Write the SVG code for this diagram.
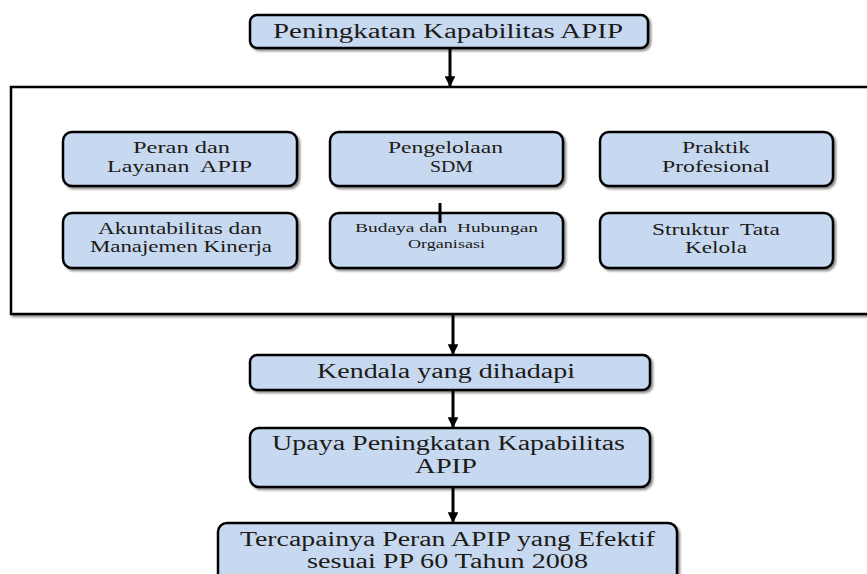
<svg xmlns="http://www.w3.org/2000/svg" width="867" height="574" viewBox="0 0 867 574">
<defs>
<filter id="sh" x="-10%" y="-20%" width="130%" height="160%">
<feDropShadow dx="2" dy="2" stdDeviation="1.2" flood-color="#000" flood-opacity="0.45"/>
</filter>
<marker id="ah" viewBox="0 0 10 10" refX="10" refY="5" markerWidth="3.6" markerHeight="3.6" markerUnits="strokeWidth" orient="auto">
<path d="M0,0 L10,5 L0,10 z" fill="#000"/>
</marker>
<style>
.box{fill:#c6d9f1;stroke:#000;stroke-width:2.5;filter:url(#sh)}
.t{font-family:"Liberation Serif","Times New Roman",serif;fill:#1e1a16}
.c{stroke:#000;stroke-width:3;fill:none}
</style>
</defs>
<rect width="867" height="574" fill="#fff"/>
<g id="frame"><rect x="11" y="87" width="880" height="227" fill="#fff" stroke="#000" stroke-width="2.5" filter="url(#sh)"/></g>
<g id="n-top"><rect class="box" x="250" y="15" width="398" height="33" rx="7"/>
<text class="t" x="273" y="38" font-size="20" textLength="350" lengthAdjust="spacingAndGlyphs">Peningkatan Kapabilitas APIP</text></g>
<g id="n-peran"><rect class="box" x="63" y="132" width="234" height="54" rx="9"/>
<text class="t" font-size="16"><tspan x="133" y="153" textLength="97" lengthAdjust="spacingAndGlyphs">Peran dan</tspan><tspan x="107" y="172" textLength="145" lengthAdjust="spacingAndGlyphs">Layanan&#160; APIP</tspan></text></g>
<g id="n-sdm"><rect class="box" x="330" y="132" width="233" height="54" rx="9"/>
<text class="t" font-size="16"><tspan x="388" y="153" textLength="115" lengthAdjust="spacingAndGlyphs">Pengelolaan</tspan><tspan x="430" y="172" textLength="43" lengthAdjust="spacingAndGlyphs">SDM</tspan></text></g>
<g id="n-praktik"><rect class="box" x="600" y="132" width="233" height="54" rx="9"/>
<text class="t" font-size="16"><tspan x="682" y="153" textLength="68" lengthAdjust="spacingAndGlyphs">Praktik</tspan><tspan x="662" y="172" textLength="108" lengthAdjust="spacingAndGlyphs">Profesional</tspan></text></g>
<g id="n-akun"><rect class="box" x="63" y="213" width="234" height="55" rx="9"/>
<text class="t" font-size="16"><tspan x="98" y="234" textLength="164" lengthAdjust="spacingAndGlyphs">Akuntabilitas dan</tspan><tspan x="90" y="252" textLength="182" lengthAdjust="spacingAndGlyphs">Manajemen Kinerja</tspan></text></g>
<g id="n-budaya"><rect class="box" x="330" y="213" width="233" height="55" rx="9"/>
<text class="t" font-size="12"><tspan x="355" y="232" textLength="183" lengthAdjust="spacingAndGlyphs">Budaya dan&#160; Hubungan</tspan><tspan x="408" y="248" textLength="77" lengthAdjust="spacingAndGlyphs">Organisasi</tspan></text>
<line x1="440" y1="203" x2="440" y2="223" stroke="#000" stroke-width="3"/></g>
<g id="n-struktur"><rect class="box" x="600" y="213" width="233" height="55" rx="9"/>
<text class="t" font-size="16"><tspan x="652" y="235" textLength="128" lengthAdjust="spacingAndGlyphs">Struktur&#160; Tata</tspan><tspan x="685" y="253" textLength="62" lengthAdjust="spacingAndGlyphs">Kelola</tspan></text></g>
<g id="n-kendala"><rect class="box" x="250" y="355" width="400" height="35" rx="7"/>
<text class="t" x="317" y="378" font-size="20" textLength="258" lengthAdjust="spacingAndGlyphs">Kendala yang dihadapi</text></g>
<g id="n-upaya"><rect class="box" x="250" y="428" width="400" height="59" rx="9"/>
<text class="t" font-size="20"><tspan x="272" y="450" textLength="353" lengthAdjust="spacingAndGlyphs">Upaya Peningkatan Kapabilitas</tspan><tspan x="415" y="473" textLength="62" lengthAdjust="spacingAndGlyphs">APIP</tspan></text></g>
<g id="n-tercapai"><rect class="box" x="218" y="523" width="459" height="70" rx="9"/>
<text class="t" font-size="20"><tspan x="240" y="546" textLength="415" lengthAdjust="spacingAndGlyphs">Tercapainya Peran APIP yang Efektif</tspan><tspan x="307" y="568" textLength="281" lengthAdjust="spacingAndGlyphs">sesuai PP 60 Tahun 2008</tspan></text></g>
<g id="connectors">
<line class="c" x1="450" y1="48" x2="450" y2="87" marker-end="url(#ah)"/>
<line class="c" x1="453" y1="314" x2="453" y2="355" marker-end="url(#ah)"/>
<line class="c" x1="453" y1="390" x2="453" y2="428" marker-end="url(#ah)"/>
<line class="c" x1="453" y1="487" x2="453" y2="523" marker-end="url(#ah)"/>
</g>
</svg>
